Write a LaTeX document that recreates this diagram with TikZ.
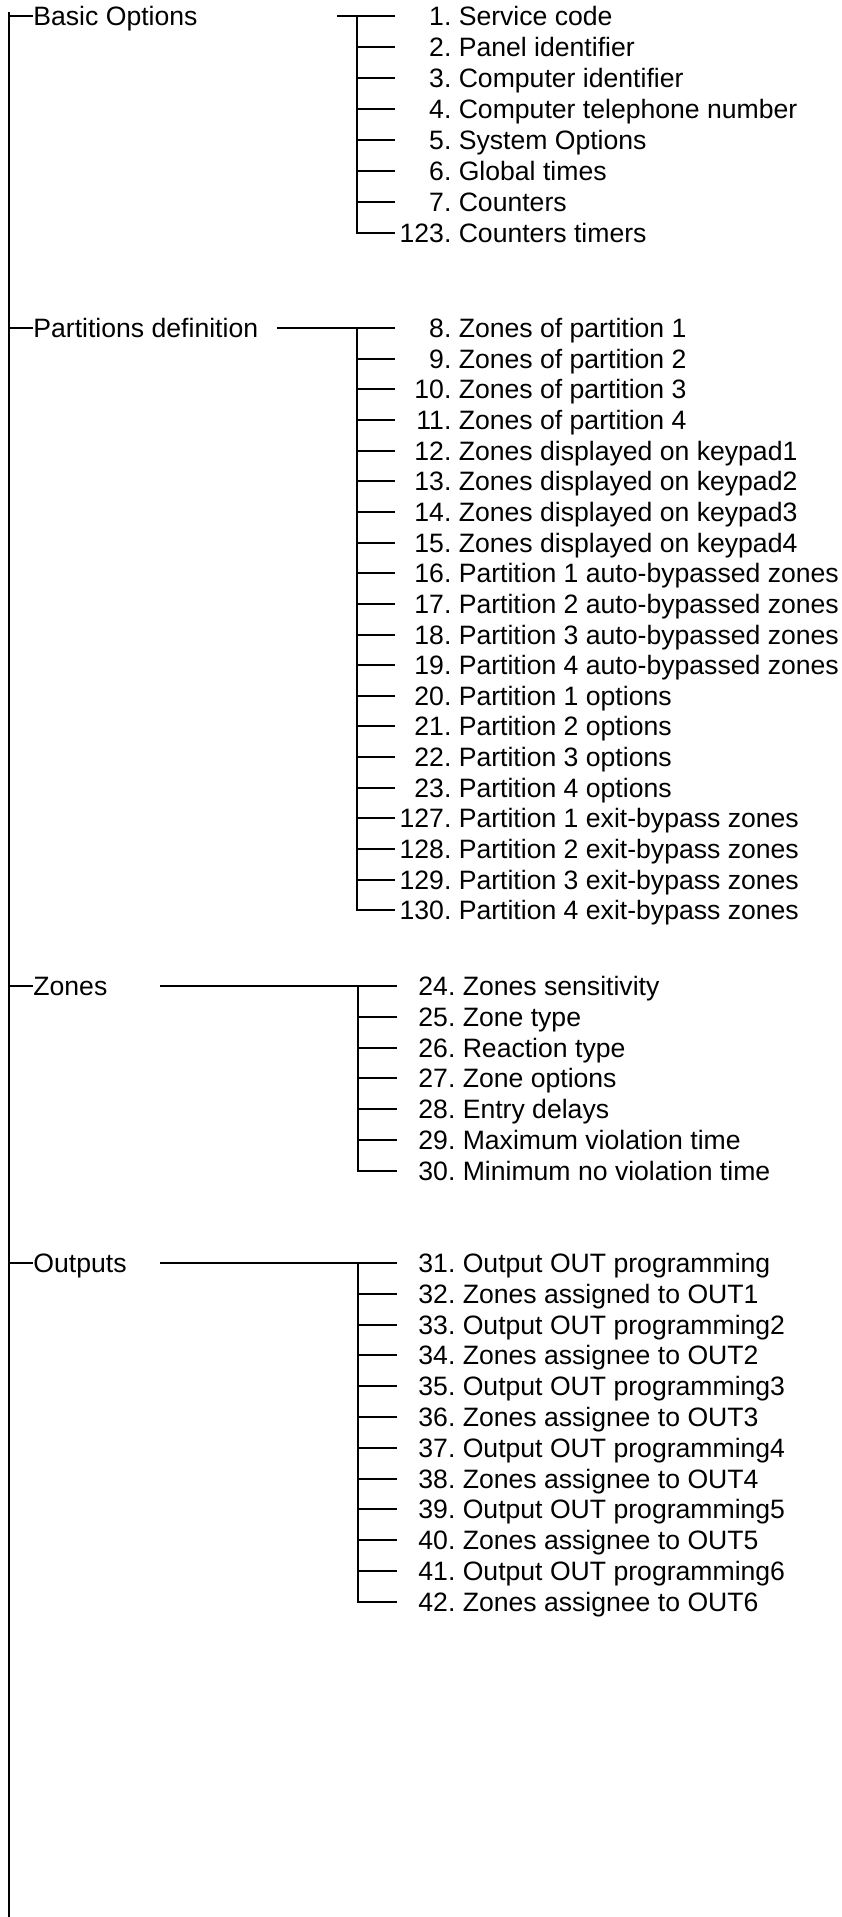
\documentclass[tikz,border=0pt]{standalone}
\usepackage{fontspec}
\setmainfont{Liberation Sans}

\tikzset{
	wire/.style={line width=1pt},
	heading/.style={font=\fontsize{13.3}{16}\selectfont, inner sep=0pt, anchor=west, text height=9.5pt, text depth=0pt},
	entry/.style={heading},
}

\begin{document}
\begin{tikzpicture}[x=0.5pt, y=-0.5pt]
	\useasboundingbox (0,0) rectangle (841,1917);
	\coordinate (Top) at (9, 12);
	\coordinate (Bottom) at (9, 1917);
	\draw [wire] (Top) -- (Bottom);

	\node [heading] (Basic) at (33, 16) {Basic Options};
	\coordinate (BasicFrom) at (337, 16);
	\coordinate (BasicFork) at (357, 16);
	\coordinate (BasicTip) at (395, 16);
	\foreach \code/\txt [count=\i] in {1/Service code, 2/Panel identifier, 3/Computer identifier, 4/Computer telephone number, 5/System Options, 6/Global times, 7/Counters, 123/Counters timers}
		\node [entry] (b\i) at (451, {16+31*(\i-1)}) {\llap{\code.}\ \txt};
	\draw [wire] (Top |- Basic) -- (Basic.west);
	\draw [wire] (BasicFrom) -- (BasicTip);
	\foreach \i in {2,...,7}
		\draw [wire] (BasicFork |- b\i) -- (BasicTip |- b\i);
	\draw [wire] (BasicFork) -- (BasicFork |- b8) -- (BasicTip |- b8);

	\node [heading] (Partitions) at (33, 328) {Partitions definition};
	\coordinate (PartFrom) at (277, 328);
	\coordinate (PartFork) at (357, 328);
	\coordinate (PartTip) at (395, 328);
	\foreach \code/\txt [count=\i] in {8/Zones of partition 1, 9/Zones of partition 2, 10/Zones of partition 3, 11/Zones of partition 4, 12/Zones displayed on keypad1, 13/Zones displayed on keypad2, 14/Zones displayed on keypad3, 15/Zones displayed on keypad4, 16/Partition 1 auto-bypassed zones, 17/Partition 2 auto-bypassed zones, 18/Partition 3 auto-bypassed zones, 19/Partition 4 auto-bypassed zones, 20/Partition 1 options, 21/Partition 2 options, 22/Partition 3 options, 23/Partition 4 options, 127/Partition 1 exit-bypass zones, 128/Partition 2 exit-bypass zones, 129/Partition 3 exit-bypass zones, 130/Partition 4 exit-bypass zones}
		\node [entry] (p\i) at (451, {328+30.65*(\i-1)}) {\llap{\code.}\ \txt};
	\draw [wire] (Top |- Partitions) -- (Partitions.west);
	\draw [wire] (PartFrom) -- (PartTip);
	\foreach \i in {2,...,19}
		\draw [wire] (PartFork |- p\i) -- (PartTip |- p\i);
	\draw [wire] (PartFork) -- (PartFork |- p20) -- (PartTip |- p20);

	\node [heading] (Zones) at (33, 986) {Zones};
	\coordinate (ZoneFrom) at (160, 986);
	\coordinate (ZoneFork) at (358, 986);
	\coordinate (ZoneTip) at (397, 986);
	\foreach \code/\txt [count=\i] in {24/Zones sensitivity, 25/Zone type, 26/Reaction type, 27/Zone options, 28/Entry delays, 29/Maximum violation time, 30/Minimum no violation time}
		\node [entry] (z\i) at (455, {986+30.8*(\i-1)}) {\llap{\code.}\ \txt};
	\draw [wire] (Top |- Zones) -- (Zones.west);
	\draw [wire] (ZoneFrom) -- (ZoneTip);
	\foreach \i in {2,...,6}
		\draw [wire] (ZoneFork |- z\i) -- (ZoneTip |- z\i);
	\draw [wire] (ZoneFork) -- (ZoneFork |- z7) -- (ZoneTip |- z7);

	\node [heading] (Outputs) at (33, 1263) {Outputs};
	\coordinate (OutFrom) at (160, 1263);
	\coordinate (OutFork) at (358, 1263);
	\coordinate (OutTip) at (397, 1263);
	\foreach \code/\txt [count=\i] in {31/Output OUT programming, 32/Zones assigned to OUT1, 33/Output OUT programming2, 34/Zones assignee to OUT2, 35/Output OUT programming3, 36/Zones assignee to OUT3, 37/Output OUT programming4, 38/Zones assignee to OUT4, 39/Output OUT programming5, 40/Zones assignee to OUT5, 41/Output OUT programming6, 42/Zones assignee to OUT6}
		\node [entry] (o\i) at (455, {1263+30.8*(\i-1)}) {\llap{\code.}\ \txt};
	\draw [wire] (Top |- Outputs) -- (Outputs.west);
	\draw [wire] (OutFrom) -- (OutTip);
	\foreach \i in {2,...,11}
		\draw [wire] (OutFork |- o\i) -- (OutTip |- o\i);
	\draw [wire] (OutFork) -- (OutFork |- o12) -- (OutTip |- o12);
\end{tikzpicture}
\end{document}
